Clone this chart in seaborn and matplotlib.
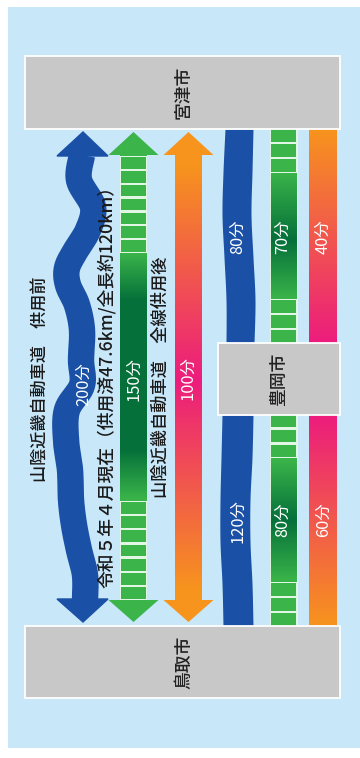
import numpy as np
import matplotlib
matplotlib.use("Agg")
import matplotlib.pyplot as plt
import seaborn as sns
from matplotlib.patches import Rectangle, Polygon
from matplotlib.colors import to_rgb

# ---------------- data ----------------
cities = ["鳥取市", "豊岡市", "宮津市"]
scenarios = ["山陰近畿自動車道　供用前",
             "令和５年４月現在（供用済47.6km/全長約120km）",
             "山陰近畿自動車道　全線供用後"]
total_minutes = [200, 150, 100]            # 鳥取市 – 宮津市
tottori_toyooka_minutes = [120, 80, 60]    # 鳥取市 – 豊岡市
toyooka_miyazu_minutes = [80, 70, 40]      # 豊岡市 – 宮津市

# decorative road shape (winding road before the expressway)
road_y = [155, 180, 207, 230, 250, 268, 285, 305, 330, 360, 385, 410, 440, 470, 500, 525, 550, 575, 600]
road_x = [82, 79, 93, 88, 76, 67, 68, 77, 82, 81, 82, 67, 66, 70, 71, 74, 79, 85, 85]

# ---------------- style ----------------
sns.set_theme(style="white")
plt.rcParams['font.family'] = ['Noto Sans CJK JP', 'DejaVu Sans']

BLUE = "#1a50a6"
GREEN_L = "#3bb54a"
GREEN_D = "#05703a"
ORANGE = "#f7941d"
PINK = "#ec1c7d"
STRIPE = "#e2f6e5"
PANEL = "#c8e7f9"
GRAY = "#c8c8c8"

fig = plt.figure(figsize=(3.6, 7.58), dpi=100)
ax = fig.add_axes([0, 0, 1, 1])
ax.set_xlim(0, 360)
ax.set_ylim(758, 0)
ax.axis("off")
fig.patch.set_facecolor("white")

ax.add_patch(Rectangle((8, 7), 360, 741, facecolor=PANEL, edgecolor="none", zorder=0))


def vgrad(patch, x0, x1, y0, y1, stops, z=2):
    ys = np.linspace(y0, y1, 400)
    sy = [s[0] for s in stops]
    cols = np.array([to_rgb(s[1]) for s in stops])
    img = np.stack([np.interp(ys, sy, cols[:, i]) for i in range(3)], axis=-1)[:, None, :]
    img = np.repeat(img, 2, axis=1)
    patch.set_facecolor("none")
    patch.set_edgecolor("none")
    ax.add_patch(patch)
    im = ax.imshow(img, extent=(x0, x1, y1, y0), origin="upper", aspect="auto",
                   interpolation="bilinear", zorder=z)
    im.set_clip_path(patch)


def arrow_poly(xc, shaft_w, head_w, tip_t, base_t, base_b, tip_b):
    s, h = shaft_w / 2, head_w / 2
    pts = [(xc, tip_t), (xc + h, base_t), (xc + s, base_t), (xc + s, base_b),
           (xc + h, base_b), (xc, tip_b), (xc - h, base_b), (xc - s, base_b),
           (xc - s, base_t), (xc - h, base_t)]
    return Polygon(pts, closed=True)


def smooth(ys, xs, n=12):
    # Catmull-Rom densification for drawing a smooth road
    P = np.array(list(zip(xs, ys)), dtype=float)
    P = np.vstack([P[0], P, P[-1]])
    out = []
    for i in range(1, len(P) - 2):
        p0, p1, p2, p3 = P[i - 1], P[i], P[i + 1], P[i + 2]
        for t in np.linspace(0, 1, n, endpoint=False):
            out.append(0.5 * ((2 * p1) + (-p0 + p2) * t + (2 * p0 - 5 * p1 + 4 * p2 - p3) * t ** 2
                              + (-p0 + 3 * p1 - 3 * p2 + p3) * t ** 3))
    out.append(P[-2])
    out = np.array(out)
    return out[:, 0], out[:, 1]


def ladder(x0, x1, y0, y1, nblocks, gap=2.2, side=1.2):
    ax.add_patch(Rectangle((x0, y0), x1 - x0, y1 - y0, facecolor=STRIPE, edgecolor="none", zorder=3))
    edges = np.linspace(y0, y1, nblocks + 1)
    for a, b in zip(edges[:-1], edges[1:]):
        ax.add_patch(Rectangle((x0 + side, a + gap / 2), x1 - x0 - 2 * side, b - a - gap,
                               facecolor=GREEN_L, edgecolor="none", zorder=4))


TIP_T, BASE_T, BASE_B, TIP_B = 132, 155, 600, 622

# ---------- column 1 : winding road (blue) ----------
xs, ys = smooth(road_y, road_x)
sns.lineplot(x=xs, y=ys, sort=False, estimator=None, color=BLUE, linewidth=19,
             solid_capstyle="butt", ax=ax, zorder=3)
ax.add_patch(Polygon([(83, TIP_T), (108, BASE_T + 1), (57, BASE_T + 1)], color=BLUE, zorder=3))
ax.add_patch(Polygon([(83, TIP_B), (108, BASE_B - 1), (57, BASE_B - 1)], color=BLUE, zorder=3))

# ---------- column 2 : current (green, ladder ends) ----------
gx = 133.5
vgrad(arrow_poly(gx, 27, 50, TIP_T, BASE_T, BASE_B, TIP_B), 100, 170, TIP_T, TIP_B,
      [(TIP_T, GREEN_L), (252, GREEN_L), (300, GREEN_D), (450, GREEN_D), (500, GREEN_L), (TIP_B, GREEN_L)])
ladder(gx - 13.5, gx + 13.5, BASE_T + 1, 253, 7)
ladder(gx - 13.5, gx + 13.5, 501, BASE_B, 7)

# ---------- column 3 : after full opening (orange->pink) ----------
ox = 188.5
vgrad(arrow_poly(ox, 27, 50, TIP_T, BASE_T, BASE_B, TIP_B), 160, 220, TIP_T, TIP_B,
      [(TIP_T, ORANGE), (165, ORANGE), (380, PINK), (590, ORANGE), (TIP_B, ORANGE)])

# ---------- right-side segment bands ----------
TOP0, TOP1, BOT0, BOT1 = 129, 343, 415, 626
# blue winding band
for (a, b, lx, rx) in [(TOP0, TOP1, [225, 223, 222, 224, 226, 226], [253, 252, 251, 253, 255, 254]),
                       (BOT0, BOT1, [222, 221, 220, 220, 222, 223], [253, 252, 250, 250, 252, 253])]:
    yy = np.linspace(a, b, 6)
    xl, yl = smooth(yy, lx)
    xr, _ = smooth(yy, rx)
    ax.fill_betweenx(yl, xl, xr, color=BLUE, lw=0, zorder=3)

# green band with ladder ends
gbx0, gbx1 = 270, 297
for (a, b, stops, ladders) in [
        (TOP0, TOP1, [(TOP0, GREEN_L), (171, GREEN_L), (240, GREEN_D), (300, GREEN_L), (TOP1, GREEN_L)],
         [(TOP0 - 1, 173), (299, TOP1 + 1)]),
        (BOT0, BOT1, [(BOT0, GREEN_L), (459, GREEN_L), (520, GREEN_D), (582, GREEN_L), (BOT1, GREEN_L)],
         [(BOT0 - 1, 458), (582, BOT1 + 1)])]:
    vgrad(Rectangle((gbx0, a), gbx1 - gbx0, b - a), gbx0, gbx1, a, b, stops, z=2)
    for y0, y1 in ladders:
        ladder(gbx0, gbx1, y0, y1, 3, gap=2.4, side=1.0)
    ax.plot([gbx0, gbx0], [a, b], color=STRIPE, lw=0.7, zorder=4)
    ax.plot([gbx1, gbx1], [a, b], color=STRIPE, lw=0.7, zorder=4)

# orange band
obx0, obx1 = 309, 337
vgrad(Rectangle((obx0, TOP0), obx1 - obx0, TOP1 - TOP0), obx0, obx1, TOP0, TOP1,
      [(TOP0, ORANGE), (TOP1, PINK)])
vgrad(Rectangle((obx0, BOT0), obx1 - obx0, BOT1 - BOT0), obx0, obx1, BOT0, BOT1,
      [(BOT0, PINK), (BOT1, ORANGE)])

# ---------- city boxes ----------
boxes = {"宮津市": (25, 56, 315, 73, 184, 92),
         "豊岡市": (218, 343, 122, 72, 279, 379),
         "鳥取市": (25, 626, 315, 72, 184, 662)}
for name in cities:
    x0, y0, w, h, tx, ty = boxes[name]
    ax.add_patch(Rectangle((x0, y0), w, h, facecolor=GRAY, edgecolor="white", lw=1.3, zorder=6))
    ax.text(tx, ty, name, rotation=90, ha="center", va="center", fontsize=12.8,
            color="#222222", fontweight="medium", zorder=7)

# ---------- scenario captions ----------
cap_pos = [(40, 379), (107, 382), (161, 377)]
cap_size = [12.3, 12.8, 12.4]
for (x, y), s, fs in zip(cap_pos, scenarios, cap_size):
    ax.text(x, y, s, rotation=90, ha="center", va="center", fontsize=fs,
            color="#1a1a1a", fontweight="medium", zorder=7)

# ---------- time labels ----------
for (x, y), m in zip([(84, 384), (134, 379), (188, 378)], total_minutes):
    ax.text(x, y, f"{m}分", rotation=90, ha="center", va="center", fontsize=11.8,
            color="white", zorder=7)
for (x, y), m in zip([(238, 237), (283, 237), (323, 237)], toyooka_miyazu_minutes):
    ax.text(x, y, f"{m}分", rotation=90, ha="center", va="center", fontsize=11.8,
            color="white", zorder=7)
for (x, y), m in zip([(238, 521), (283, 520), (323, 520)], tottori_toyooka_minutes):
    ax.text(x, y, f"{m}分", rotation=90, ha="center", va="center", fontsize=11.8,
            color="white", zorder=7)

ax.set_xlim(0, 360)
ax.set_ylim(758, 0)
fig.savefig("out.png", dpi=100)
